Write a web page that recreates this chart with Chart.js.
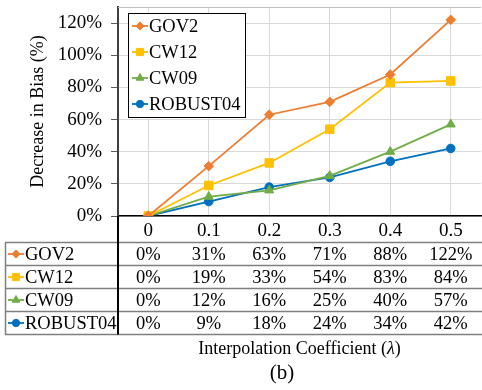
<!DOCTYPE html>
<html>
<head>
<meta charset="utf-8">
<script src="https://cdn.jsdelivr.net/npm/chart.js@4/dist/chart.umd.min.js"></script>
<style>
    html, body { margin: 0; padding: 0; background: #fff; overflow: hidden; }
    #wrap { position: relative; width: 488px; height: 390px; }
</style>
</head>
<body>
<div id="wrap"><canvas id="chart"></canvas></div>
<script>
// categories (interpolation coefficient)
const lambdas = ['0', '0.1', '0.2', '0.3', '0.4', '0.5'];
// decrease in bias (%) per collection
const gov2 = [0, 31, 63, 71, 88, 122];
const cw12 = [0, 19, 33, 54, 83, 84];
const cw09 = [0, 12, 16, 25, 40, 57];
const robust04 = [0, 9, 18, 24, 34, 42];
const seriesNames = ['GOV2', 'CW12', 'CW09', 'ROBUST04'];
const yTicks = [0, 20, 40, 60, 80, 100, 120];

const FONT = "'Liberation Serif', 'Times New Roman', serif";
const styles = [
    { color: '#ED7D31', pointStyle: 'rectRot', radius: 4.8 },
    { color: '#FFC000', pointStyle: 'rect', radius: 6 },
    { color: '#70AD47', pointStyle: 'triangle', radius: 5.2 },
    { color: '#0070C0', pointStyle: 'circle', radius: 4.3 }
];
const allData = [gov2, cw12, cw09, robust04];

const datasets = allData.map((d, i) => ({
    label: seriesNames[i],
    data: d,
    borderColor: styles[i].color,
    backgroundColor: styles[i].color,
    borderWidth: 1.8,
    pointStyle: styles[i].pointStyle,
    pointRadius: styles[i].radius,
    pointBorderWidth: 1,
    tension: 0
}));

function marker(ctx, i, x, y) {
    const s = styles[i];
    ctx.save();
    ctx.strokeStyle = s.color;
    ctx.lineWidth = 1.8;
    ctx.beginPath();
    ctx.moveTo(x - 8, y);
    ctx.lineTo(x + 8, y);
    ctx.stroke();
    ctx.fillStyle = s.color;
    ctx.lineWidth = 1;
    Chart.helpers.drawPoint(ctx, { pointStyle: s.pointStyle, radius: s.radius * 0.85, rotation: 0, borderWidth: 1 }, x, y);
    ctx.restore();
}

// legend box inside the plot + data table under the axis
const extras = {
    id: 'extras',
    afterDraw(chart) {
        const ctx = chart.ctx;
        const area = chart.chartArea;
        const xs = chart.scales.x;

        ctx.save();
        // plot area top border
        ctx.strokeStyle = '#bfbfbf';
        ctx.lineWidth = 1;
        ctx.beginPath();
        ctx.moveTo(area.left, area.top + 0.5);
        ctx.lineTo(area.right, area.top + 0.5);
        ctx.stroke();

        // legend
        ctx.fillStyle = '#fff';
        ctx.fillRect(128.5, 13.5, 117, 104);
        ctx.strokeStyle = '#000';
        ctx.lineWidth = 1;
        ctx.strokeRect(128.5, 13.5, 117, 104);
        ctx.font = '18.5px ' + FONT;
        ctx.textBaseline = 'middle';
        ctx.textAlign = 'left';
        seriesNames.forEach((name, i) => {
            const y = 26 + i * 26;
            marker(ctx, i, 140, y);
            ctx.fillStyle = '#000';
            ctx.fillText(name, 149, y + 1);
        });

        // data table
        const rowTop = 242.5, rowH = 23, right = chart.width;
        const bottom = rowTop + rowH * seriesNames.length;
        ctx.strokeStyle = '#7f7f7f';
        ctx.lineWidth = 1.5;
        for (let r = 0; r <= seriesNames.length; r++) {
            const y = rowTop + r * rowH;
            ctx.beginPath();
            ctx.moveTo(5, y);
            ctx.lineTo(right, y);
            ctx.stroke();
        }
        ctx.beginPath();
        ctx.moveTo(5.5, rowTop);
        ctx.lineTo(5.5, bottom);
        ctx.stroke();
        ctx.strokeStyle = '#000';
        ctx.lineWidth = 2;
        ctx.beginPath();
        ctx.moveTo(area.left, area.bottom);
        ctx.lineTo(area.left, bottom);
        ctx.stroke();

        ctx.font = '18.5px ' + FONT;
        seriesNames.forEach((name, r) => {
            const cy = rowTop + r * rowH + rowH / 2 + 1;
            marker(ctx, r, 16, cy - 1);
            ctx.fillStyle = '#000';
            ctx.textAlign = 'left';
            ctx.fillText(name, 25, cy);
            ctx.textAlign = 'center';
            allData[r].forEach((v, c) => {
                ctx.fillText(v + '%', xs.getPixelForValue(c), cy);
            });
        });

        // x axis title with italic lambda
        const parts = [
            ['Interpolation Coefficient (', '18px ' + FONT],
            ['λ', 'italic 18px ' + FONT],
            [')', '18px ' + FONT]
        ];
        let total = 0;
        parts.forEach(p => { ctx.font = p[1]; total += ctx.measureText(p[0]).width; });
        let tx = (area.left + area.right) / 2 - total / 2;
        ctx.textAlign = 'left';
        parts.forEach(p => {
            ctx.font = p[1];
            ctx.fillText(p[0], tx, 349);
            tx += ctx.measureText(p[0]).width;
        });

        // panel label
        ctx.font = '21px ' + FONT;
        ctx.textAlign = 'center';
        ctx.fillText('(b)', 282, 373);
        ctx.restore();
    }
};

new Chart(document.getElementById('chart'), {
    type: 'line',
    data: { labels: lambdas, datasets: datasets },
    options: {
        responsive: true,
        maintainAspectRatio: false,
        animation: false,
        layout: { padding: { top: 7, left: 0, right: 0, bottom: 0 } },
        plugins: {
            legend: { display: false },
            tooltip: { enabled: false }
        },
        scales: {
            x: {
                offset: true,
                grid: { offset: false, color: '#d9d9d9', drawTicks: false },
                border: { color: '#000', width: 1.5 },
                ticks: { color: '#000', padding: 4, font: { family: FONT, size: 19 } },
                afterFit(scale) {
                    scale.height = 174;
                    scale.paddingLeft = 0;
                    scale.paddingRight = 0;
                }
            },
            y: {
                min: 0,
                max: 130,
                grid: { color: '#d9d9d9', tickColor: '#595959', tickLength: 7 },
                border: { color: '#404040', width: 2 },
                ticks: {
                    color: '#000',
                    padding: 9,
                    font: { family: FONT, size: 19 },
                    callback: v => v + '%'
                },
                afterBuildTicks(scale) {
                    scale.ticks = yTicks.map(v => ({ value: v }));
                },
                title: {
                    display: true,
                    text: 'Decrease in Bias (%)',
                    color: '#000',
                    font: { family: FONT, size: 18 },
                    padding: { top: 27, bottom: 0 }
                },
                afterFit(scale) {
                    scale.width = 118;
                    scale.paddingTop = 0;
                    scale.paddingBottom = 0;
                }
            }
        }
    },
    plugins: [extras]
});
</script>
</body>
</html>
